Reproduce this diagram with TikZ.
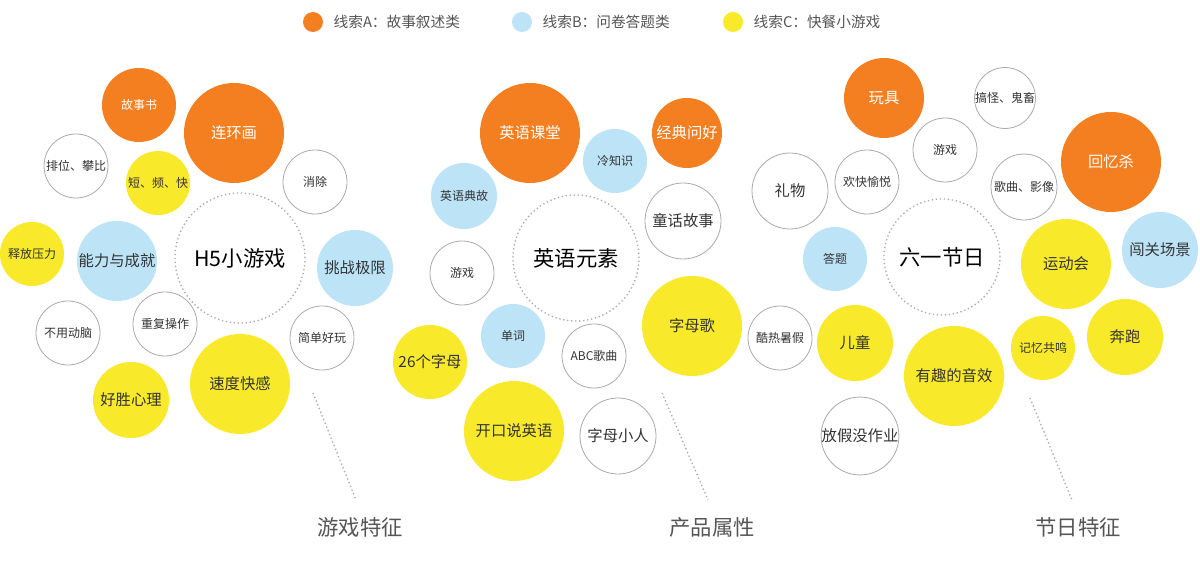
\documentclass[tikz,border=0pt]{standalone}
\usepackage{fontspec}
\newfontfamily\cjk{Noto Sans CJK SC}
\definecolor{org}{HTML}{F47F20}
\definecolor{blu}{HTML}{BDE3F7}
\definecolor{yel}{HTML}{F8EA2B}
\definecolor{txt}{HTML}{333333}
\definecolor{gry}{HTML}{AAAAAA}
\definecolor{lab}{HTML}{555555}
\tikzset{
 bub/.style={circle,inner sep=0pt,font=\cjk\fontsize{9}{10}\selectfont,text=txt},
 ob/.style={bub,fill=org,text=white},
 bb/.style={bub,fill=blu},
 yb/.style={bub,fill=yel},
 wb/.style={bub,draw=gry,line width=0.6pt,fill=white},
 big/.style={font=\cjk\fontsize{11.5}{13}\selectfont},
 ctr/.style={circle,inner sep=0pt,draw=gry,dotted,line width=1pt,font=\cjk\fontsize{16}{18}\selectfont,text=black},
 lbl/.style={font=\cjk\fontsize{16}{18}\selectfont,text=lab},
 leg/.style={font=\cjk\fontsize{11}{13}\selectfont,text=lab,anchor=west},
 dl/.style={draw=gry,dotted,line width=1pt}
}
\newcommand{\C}[6]{\node[#4,minimum size=#3*1.5pt] (#6) at (#1,#2) {#5};}
\begin{document}
\begin{tikzpicture}[x=0.75pt,y=-0.75pt]
\useasboundingbox[fill=white] (0,0) rectangle (1200,566);
% legend
\C{313}{22}{10}{ob}{}{l1}\node[leg] (lt1) at (329,22) {线索A：故事叙述类};
\C{522}{22}{10}{bb}{}{l2}\node[leg] (lt2) at (538,22) {线索B：问卷答题类};
\C{733}{22}{10}{yb}{}{l3}\node[leg] (lt3) at (749,22) {线索C：快餐小游戏};
% cluster 1
\C{139}{105}{37}{ob}{故事书}{a1}
\C{234}{133}{50}{ob,big}{连环画}{a2}
\C{76}{166}{32}{wb}{排位、攀比}{a3}
\C{158}{183}{32}{yb}{短、频、快}{a4}
\C{315}{182}{32}{wb}{消除}{a5}
\C{240}{258}{65}{ctr}{H5小游戏}{a6}
\C{32}{254}{32}{yb}{释放压力}{a7}
\C{117}{261}{40}{bb,big}{能力与成就}{a8}
\C{355}{268}{38}{bb,big}{挑战极限}{a9}
\C{68}{333}{32}{wb}{不用动脑}{a10}
\C{165}{324}{32}{wb}{重复操作}{a11}
\C{322}{338}{32}{wb}{简单好玩}{a12}
\C{240}{384}{50}{yb,big}{速度快感}{a13}
\C{131}{400}{38}{yb,big}{好胜心理}{a14}
\coordinate (d1a) at (313,393); \coordinate (d1b) at (356,500);
\draw[dl] (d1a) -- (d1b);
\node[lbl] (t1) at (360,527) {游戏特征};
% cluster 2
\C{530}{133}{50}{ob,big}{英语课堂}{b1}
\C{615}{161}{32}{bb}{冷知识}{b2}
\C{687}{133}{35}{ob,big}{经典问好}{b3}
\C{464}{196}{33}{bb}{英语典故}{b4}
\C{683}{221}{38}{wb,big}{童话故事}{b5}
\C{576}{258}{63}{ctr}{英语元素}{b6}
\C{462}{273}{32}{wb}{游戏}{b7}
\C{692}{326}{50}{yb,big}{字母歌}{b8}
\C{513}{336}{32}{bb}{单词}{b9}
\C{594}{356}{32}{wb}{ABC歌曲}{b10}
\C{430}{362}{37}{yb,big}{26个字母}{b11}
\C{514}{431}{50}{yb,big}{开口说英语}{b12}
\C{618}{436}{38}{wb,big}{字母小人}{b13}
\coordinate (d2a) at (662,393); \coordinate (d2b) at (708,500);
\draw[dl] (d2a) -- (d2b);
\node[lbl] (t2) at (712,527) {产品属性};
% cluster 3
\C{884}{98}{40}{ob,big}{玩具}{c1}
\C{1005}{98}{30}{wb}{搞怪、鬼畜}{c2}
\C{945}{150}{32}{wb}{游戏}{c3}
\C{867}{182}{32}{wb}{欢快愉悦}{c4}
\C{1111}{162}{50}{ob,big}{回忆杀}{c5}
\C{790}{191}{38}{wb,big}{礼物}{c6}
\C{1024}{187}{33}{wb}{歌曲、影像}{c7}
\C{835}{259}{32}{bb}{答题}{c8}
\C{942}{257}{58}{ctr}{六一节日}{c9}
\C{1066}{264}{45}{yb,big}{运动会}{c10}
\C{1160}{250}{38}{bb,big}{闯关场景}{c11}
\C{780}{338}{32}{wb}{酷热暑假}{c12}
\C{855}{343}{38}{yb,big}{儿童}{c13}
\C{1043}{348}{32}{yb}{记忆共鸣}{c14}
\C{1125}{337}{38}{yb,big}{奔跑}{c15}
\C{954}{376}{50}{yb,big}{有趣的音效}{c16}
\C{860}{436}{38}{wb,big}{放假没作业}{c17}
\coordinate (d3a) at (1030,398); \coordinate (d3b) at (1072,500);
\draw[dl] (d3a) -- (d3b);
\node[lbl] (t3) at (1078,527) {节日特征};
\end{tikzpicture}
\end{document}
